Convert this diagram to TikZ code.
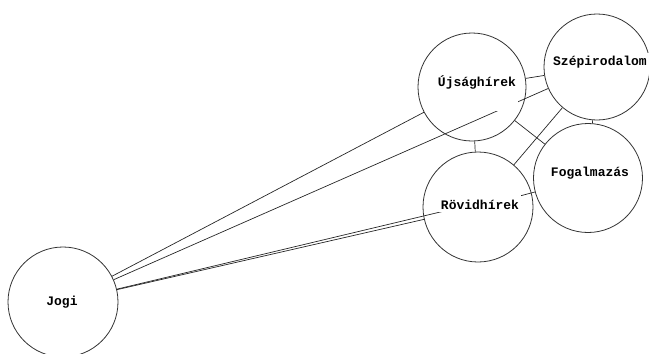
\documentclass[tikz,border=0pt]{standalone}
\usepackage{fontspec}
\newfontfamily\lblfont{Liberation Mono}
\usetikzlibrary{calc}
\tikzset{
  topic/.style={circle,draw=black!80,line width=0.8pt,inner sep=0pt,minimum size=#1},
  lbl/.style={fill=white,inner xsep=2pt,inner ysep=3pt,font=\lblfont\bfseries\fontsize{13}{13}\selectfont},
  edge/.style={draw=black!85,line width=0.7pt}
}
\begin{document}
\begin{tikzpicture}[x=1pt,y=-1pt]
\useasboundingbox (0,0) rectangle (649,354);
% circles
\node[topic=110pt] (jogi) at (63,302) {};
\node[topic=108pt] (ujs)  at (472,87) {};
\node[topic=106pt] (szep) at (597,67) {};
\node[topic=109pt] (fog)  at (588,178) {};
\node[topic=110pt] (rov)  at (478,207) {};
% connectors
\draw[edge] (jogi) -- (ujs);
\draw[edge] (jogi) -- (szep);
\draw[edge] (jogi) -- (rov);
\draw[edge] (jogi) -- ($(rov.center)+(0,-4)$);
\draw[edge] (ujs) -- (szep);
\draw[edge] (ujs) -- (rov);
\draw[edge] (ujs) -- (fog);
\draw[edge] (szep) -- (rov);
\draw[edge] (szep) -- (fog);
\draw[edge] (fog) -- (rov.center);
% labels
\node[lbl,text depth=22pt,anchor=base] (ujsL) at (477,86) {Újsághírek};
\node[lbl,text height=12pt,anchor=base] (rovL) at (480,209) {Rövidhírek};
\node[lbl] (szepL) at (600,62) {Szépirodalom};
\node[lbl] (fogL) at (590,173) {Fogalmazás};
\node[lbl] (jogiL) at (62,302) {Jogi};
\end{tikzpicture}
\end{document}
